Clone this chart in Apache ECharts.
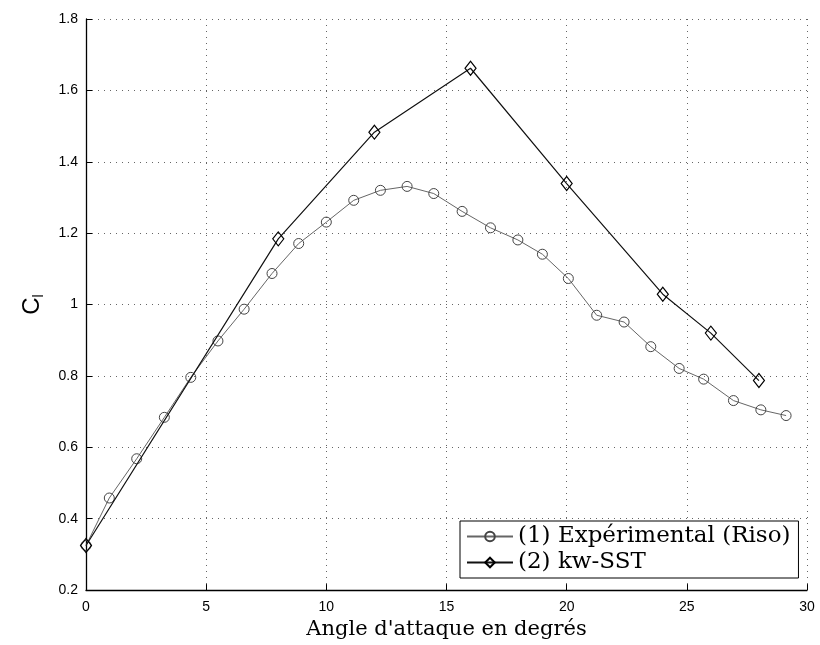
<!DOCTYPE html>
<html>
<head>
<meta charset="utf-8">
<script src="https://cdn.jsdelivr.net/npm/echarts@6/dist/echarts.min.js"></script>
<style>
  html, body { margin: 0; padding: 0; background: #fff; }
  #chart { width: 820px; height: 645px; }
</style>
</head>
<body>
<div id="chart"></div>
<script>
// angle of attack (deg) and lift coefficient
var expAngles = [0, 0.97, 2.11, 3.26, 4.36, 5.49, 6.58, 7.74, 8.85, 10.0, 11.14, 12.25, 13.36,
  14.47, 15.65, 16.83, 17.97, 18.99, 20.07, 21.25, 22.39, 23.5, 24.68, 25.7, 26.94, 28.08, 29.13];
var expCl = [0.325, 0.458, 0.568, 0.684, 0.796, 0.898, 0.987, 1.087, 1.171, 1.231, 1.292, 1.320, 1.331,
  1.311, 1.261, 1.215, 1.181, 1.141, 1.073, 0.970, 0.951, 0.882, 0.821, 0.791, 0.731, 0.705, 0.689];

var sstAngles = [0, 8, 12, 16, 20, 24, 26, 28];
var sstCl = [0.325, 1.184, 1.483, 1.662, 1.339, 1.029, 0.920, 0.787];

var seriesNames = ['(1) Expérimental (Riso)', '(2) kw-SST'];

var xTicks = { min: 0, max: 30, interval: 5 };
var yTicks = { min: 0.2, max: 1.8, interval: 0.2 };

function pairs(xs, ys) {
  return xs.map(function (x, i) { return [x, ys[i]]; });
}

var chart = echarts.init(document.getElementById('chart'));

var serif = '"DejaVu Serif", "Liberation Serif", serif';
var sans = '"Liberation Sans", Arial, sans-serif';

var gridLine = {
  show: true,
  lineStyle: { color: '#666', width: 1, type: [1, 5] }
};

var option = {
  backgroundColor: '#fff',
  animation: false,
  grid: { left: 86, top: 19, right: 13, bottom: 53 },
  legend: {
    orient: 'vertical',
    left: 460,
    top: 521,
    padding: [4, 8, 4, 6],
    itemGap: 3,
    itemWidth: 46,
    itemHeight: 12,
    borderColor: '#000',
    borderWidth: 1,
    backgroundColor: '#fff',
    textStyle: { fontFamily: serif, fontSize: 23, color: '#000' },
    data: seriesNames
  },
  xAxis: {
    type: 'value',
    min: xTicks.min,
    max: xTicks.max,
    interval: xTicks.interval,
    name: "Angle d'attaque en degrés",
    nameLocation: 'middle',
    nameGap: 28,
    nameTextStyle: { fontFamily: serif, fontSize: 21, color: '#000' },
    axisLine: { lineStyle: { color: '#000', width: 1.3 } },
    axisTick: { inside: true, length: 6, lineStyle: { color: '#000' } },
    axisLabel: { fontFamily: sans, fontSize: 14, color: '#000', margin: 10 },
    splitLine: gridLine
  },
  yAxis: {
    type: 'value',
    min: yTicks.min,
    max: yTicks.max,
    interval: yTicks.interval,
    name: '{c|C}{s|l}',
    nameLocation: 'middle',
    nameGap: 40,
    nameRotate: 90,
    nameTextStyle: {
      rich: {
        c: { fontFamily: sans, fontSize: 24, color: '#000' },
        s: { fontFamily: sans, fontSize: 14, color: '#000', padding: [14, 0, 0, 0] }
      }
    },
    axisLine: { lineStyle: { color: '#000', width: 1.3 } },
    axisTick: { inside: true, length: 6, lineStyle: { color: '#000' } },
    axisLabel: {
      fontFamily: sans, fontSize: 14, color: '#000', margin: 8,
      formatter: function (v) { return String(parseFloat(v.toFixed(1))); }
    },
    splitLine: gridLine
  },
  series: [
    {
      name: seriesNames[0],
      type: 'line',
      data: pairs(expAngles, expCl),
      symbol: 'circle',
      symbolSize: 10,
      showAllSymbol: true,
      lineStyle: { color: '#666', width: 1 },
      itemStyle: { color: 'rgba(255,255,255,0)', borderColor: '#444', borderWidth: 1 },
      z: 3
    },
    {
      name: seriesNames[1],
      type: 'line',
      data: pairs(sstAngles, sstCl),
      symbol: 'diamond',
      symbolSize: [11, 14],
      lineStyle: { color: '#111', width: 1.2 },
      itemStyle: { color: 'rgba(255,255,255,0)', borderColor: '#000', borderWidth: 1.2 },
      z: 4
    }
  ]
};

chart.setOption(option);
</script>
</body>
</html>
